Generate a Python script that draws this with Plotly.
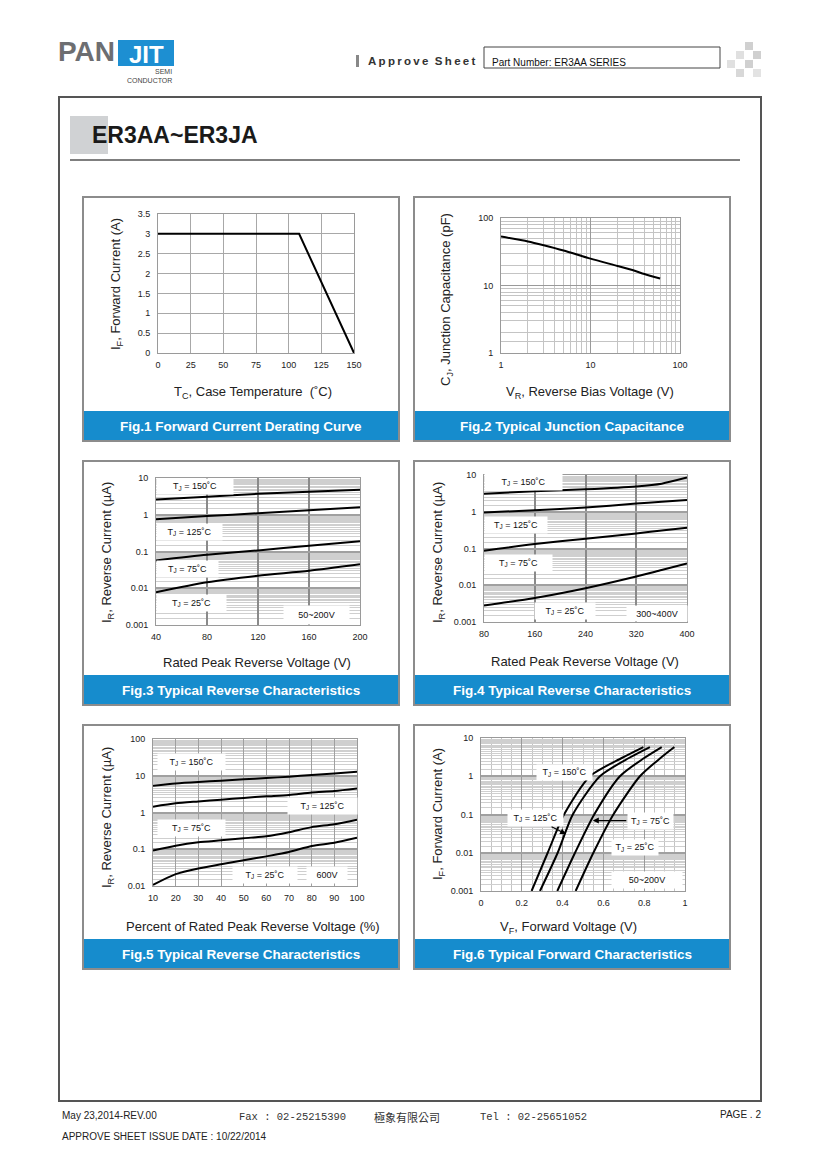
import plotly.graph_objects as go

W, H = 820, 1160

# ---------------- data ----------------
# Fig.1 Forward current derating
f1_temp = [0, 108, 150]
f1_cur = [3, 3, 0]

# Fig.2 Junction capacitance
f2_v = [1, 2, 3, 5, 10, 20, 30, 40, 60]
f2_c = [53, 45, 39.5, 33, 25, 19.5, 16.8, 14.8, 12.7]

# Fig.3 Reverse characteristics 50~200V
f3_v = [40, 80, 120, 160, 200]
f3_150 = [2.6, 3.1, 3.7, 4.2, 4.8]
f3_125 = [0.76, 0.92, 1.1, 1.33, 1.6]
f3_75 = [0.057, 0.081, 0.107, 0.143, 0.19]
f3_25 = [0.0078, 0.0146, 0.022, 0.030, 0.045]

# Fig.4 Reverse characteristics 300~400V
f4_v = [80, 160, 240, 320, 360, 400]
f4_150 = [3.1, 3.6, 4.1, 4.9, 5.8, 8.5]
f4_125 = [0.95, 1.1, 1.3, 1.67, 1.88, 2.1]
f4_75 = [0.087, 0.132, 0.185, 0.257, 0.31, 0.37]
f4_25 = [0.0028, 0.0045, 0.0083, 0.0173, 0.026, 0.039]

# Fig.5 Reverse characteristics 600V
f5_pct = [10, 20, 30, 40, 50, 60, 70, 80, 90, 100]
f5_150 = [5.3, 6.2, 6.8, 7.3, 8.0, 8.7, 9.4, 10.5, 11.6, 12.9]
f5_125 = [1.44, 1.78, 2.0, 2.23, 2.5, 2.75, 3.0, 3.5, 3.85, 4.5]
f5_75 = [0.092, 0.125, 0.155, 0.175, 0.2, 0.225, 0.29, 0.4, 0.48, 0.64]
f5_25 = [0.0107, 0.021, 0.030, 0.039, 0.05, 0.064, 0.084, 0.123, 0.15, 0.206]

# Fig.6 Forward characteristics
f6_if = [0.001, 0.01, 0.1, 1, 3, 5.8]
f6_150 = [0.248, 0.327, 0.407, 0.534, 0.69, 0.796]
f6_125 = [0.289, 0.376, 0.45, 0.583, 0.725, 0.828]
f6_75 = [0.374, 0.461, 0.555, 0.681, 0.80, 0.886]
f6_25 = [0.464, 0.551, 0.649, 0.779, 0.88, 0.948]

captions = ["Fig.1 Forward Current Derating Curve", "Fig.2 Typical Junction Capacitance",
            "Fig.3 Typical Reverse Characteristics", "Fig.4 Typical Reverse Characteristics",
            "Fig.5 Typical Reverse Characteristics", "Fig.6 Typical Forward Characteristics"]

# ---------------- helpers ----------------
def xd(a, b):
    return [a / W, b / W]

def yd(a, b):
    return [1 - b / H, 1 - a / H]

def PX(x):
    return x / W

def PY(y):
    return 1 - y / H

FONT = "Liberation Sans, Arial, sans-serif"
BLUE = "#168ccd"
tickfont = dict(family=FONT, size=9, color="#222")

def logminor(lo, hi, steps):
    return [m * 10 ** e for e in range(lo, hi) for m in steps]

dense = [1 + 0.5 * i for i in range(1, 18)]
std = [2, 3, 4, 5, 6, 7, 8, 9]

fig = go.Figure()

def add(x, y, n, shape="spline"):
    fig.add_trace(go.Scatter(x=x, y=y, mode="lines", line=dict(color="black", width=2, shape=shape, smoothing=0.7),
                             xaxis="x" + ("" if n == 1 else str(n)),
                             yaxis="y" + ("" if n == 1 else str(n)), hoverinfo="skip", showlegend=False))

add(f1_temp, f1_cur, 1, shape="linear")
add(f2_v, f2_c, 2)
for s in (f3_150, f3_125, f3_75, f3_25):
    add(f3_v, s, 3)
for s in (f4_150, f4_125, f4_75, f4_25):
    add(f4_v, s, 4)
for s in (f5_150, f5_125, f5_75, f5_25):
    add(f5_pct, s, 5)
for s in (f6_150, f6_125, f6_75, f6_25):
    add(s, f6_if, 6)

base = dict(showline=True, mirror=True, linecolor="#9a9a9a", linewidth=1, ticks="", automargin=False,
            tickfont=tickfont, zeroline=False, fixedrange=True)
bx = dict(base, ticklabelstandoff=3)
by = dict(base, ticklabelstandoff=5)

lay = {}
# Fig 1
lay["xaxis"] = dict(bx, domain=xd(158, 354), anchor="y", range=[0, 150], tickvals=[0, 25, 50, 75, 100, 125, 150],
                    gridcolor="#a8a8a8", gridwidth=1)
lay["yaxis"] = dict(by, domain=yd(214, 353), anchor="x", range=[0, 3.5], tickvals=[0, 0.5, 1, 1.5, 2, 2.5, 3, 3.5],
                    ticktext=["0", "0.5", "1", "1.5", "2", "2.5", "3", "3.5"], gridcolor="#a8a8a8", gridwidth=1)
# Fig 2
lay["xaxis2"] = dict(bx, domain=xd(501, 680), anchor="y2", type="log", range=[0, 2], tickvals=[1, 10, 100],
                     ticktext=["1", "10", "100"], gridcolor="#9a9a9a", gridwidth=1,
                     minor=dict(tickvals=logminor(0, 2, std), showgrid=True, gridcolor="#c4c4c4", gridwidth=1))
lay["yaxis2"] = dict(by, domain=yd(218, 353), anchor="x2", type="log", range=[0, 2], tickvals=[1, 10, 100],
                     ticktext=["1", "10", "100"], gridcolor="#9a9a9a", gridwidth=1,
                     minor=dict(tickvals=logminor(0, 2, [1.5] + std), showgrid=True, gridcolor="#c4c4c4", gridwidth=1))

ylog = dict(type="log", tickvals=[0.001, 0.01, 0.1, 1, 10, 100],
            ticktext=["0.001", "0.01", "0.1", "1", "10", "100"], gridcolor="#a0a0a0", gridwidth=1.5)
# Fig 3
lay["xaxis3"] = dict(bx, domain=xd(156, 360), anchor="y3", range=[40, 200], tickvals=[40, 80, 120, 160, 200],
                     gridcolor="#8a8a8a", gridwidth=1.5)
lay["yaxis3"] = dict(by, **ylog, domain=yd(478, 625), anchor="x3", range=[-3, 1],
                     minor=dict(tickvals=logminor(-3, 1, dense), showgrid=True, gridcolor="#cfcfcf", gridwidth=1))
# Fig 4
lay["xaxis4"] = dict(bx, domain=xd(484, 687), anchor="y4", range=[80, 400], tickvals=[80, 160, 240, 320, 400],
                     gridcolor="#8a8a8a", gridwidth=1.5)
lay["yaxis4"] = dict(by, **ylog, domain=yd(475, 622), anchor="x4", range=[-3, 1],
                     minor=dict(tickvals=logminor(-3, 1, dense), showgrid=True, gridcolor="#cfcfcf", gridwidth=1))
# Fig 5
lay["xaxis5"] = dict(bx, domain=xd(153, 357), anchor="y5", range=[10, 100], tickvals=list(range(10, 101, 10)),
                     gridcolor="#a0a0a0", gridwidth=1)
lay["yaxis5"] = dict(by, **ylog, domain=yd(739, 886), anchor="x5", range=[-2, 2],
                     minor=dict(tickvals=logminor(-2, 2, dense), showgrid=True, gridcolor="#cfcfcf", gridwidth=1))
# Fig 6
lay["xaxis6"] = dict(bx, domain=xd(481, 685), anchor="y6", range=[0, 1], tickvals=[0, 0.2, 0.4, 0.6, 0.8, 1],
                     ticktext=["0", "0.2", "0.4", "0.6", "0.8", "1"], gridcolor="#9a9a9a", gridwidth=1,
                     minor=dict(tickvals=[i * 0.05 for i in range(1, 20)], showgrid=True, gridcolor="#c4c4c4", gridwidth=1))
lay["yaxis6"] = dict(by, **ylog, domain=yd(738, 891), anchor="x6", range=[-3, 1],
                     minor=dict(tickvals=logminor(-3, 1, dense), showgrid=True, gridcolor="#cfcfcf", gridwidth=1))

shapes = []
ann = []

def rect(x0, y0, x1, y1, fill=None, lc=None, lw=0, layer="below"):
    shapes.append(dict(type="rect", xref="paper", yref="paper", x0=PX(x0), x1=PX(x1), y0=PY(y1), y1=PY(y0),
                       fillcolor=fill if fill else "rgba(0,0,0,0)",
                       line=dict(color=lc if lc else "rgba(0,0,0,0)", width=lw), layer=layer))

def text(x, y, t, size=10, color="#222", family=FONT, xanchor="center", yanchor="middle", angle=0, **kw):
    ann.append(dict(x=PX(x), y=PY(y), xref="paper", yref="paper", text=t, showarrow=False,
                    font=dict(family=family, size=size, color=color), xanchor=xanchor, yanchor=yanchor,
                    textangle=angle, **kw))

def label(x0, y0, x1, y1, t, size=9):
    ann.append(dict(x=PX((x0 + x1) / 2), y=PY((y0 + y1) / 2), xref="paper", yref="paper", text=t,
                    showarrow=False, font=dict(family=FONT, size=size, color="#111"),
                    bgcolor="white", width=x1 - x0, height=y1 - y0, borderpad=0,
                    xanchor="center", yanchor="middle"))

# -------- header --------
text(56, 52, "<b>PAN</b>", size=28, color="#6d6e71", xanchor="left")
rect(118, 40, 174, 66, fill="#1d8fd2")
text(146, 54, "<b>JIT</b>", size=24, color="white")
text(174, 71, "SEMI", size=7, color="#444", xanchor="right")
text(174, 80, "CONDUCTOR", size=7, color="#444", xanchor="right")
rect(356, 55, 359, 67, fill="#888")
sp = "\u2009"
text(366, 61, "<b>" + sp.join("Approve") + "\u00a0\u00a0" + sp.join("Sheet") + "</b>", size=11.5, color="#333",
     xanchor="left")
rect(484, 47, 720, 68, lc="#444", lw=1)
text(490, 62, "Part Number: ER3AA SERIES", size=10, color="#111", xanchor="left")
for (cx, cy, c) in [(745, 42, "#d0d0d0"), (736, 51, "#e0e0e0"), (753, 51, "#d0d0d0"),
                    (727, 60, "#e0e0e0"), (745, 60, "#d0d0d0"), (736, 69, "#d8d8d8"), (753, 69, "#e3e3e3")]:
    rect(cx, cy, cx + 8, cy + 8, fill=c)

# -------- outer frame & title --------
rect(59, 97, 761, 1101, lc="#555", lw=2)
rect(70, 116, 108, 154, fill="#d0d2d4")
text(90, 135, "<b>ER3AA~ER3JA</b>", size=23, color="#1a1a1a", xanchor="left")
shapes.append(dict(type="line", xref="paper", yref="paper", x0=PX(70), x1=PX(740), y0=PY(160), y1=PY(160),
                   line=dict(color="#555", width=1.5)))

# -------- panels --------
panels = [(83, 197), (414, 197), (83, 461), (414, 461), (83, 725), (414, 725)]
for i, (x0, y0) in enumerate(panels):
    rect(x0, y0, x0 + 316, y0 + 244, fill="white", lc="#8c8c8c", lw=2)
    rect(x0 + 1, y0 + 214, x0 + 315, y0 + 243, fill=BLUE, layer="above")
    text(x0 + 158, y0 + 229, "<b>" + captions[i] + "</b>", size=13.5, color="white")

TS = 13
# axis titles
text(117, 284, "I<sub>F</sub>, Forward Current (A)", size=TS, angle=-90)
text(253, 392, "T<sub>C</sub>, Case Temperature  (˚C)", size=TS)
text(447, 300, "C<sub>J</sub>, Junction Capacitance (pF)", size=TS, angle=-90)
text(590, 392, "V<sub>R</sub>, Reverse Bias Voltage (V)", size=TS)
text(107, 553, "I<sub>R</sub>, Reverse Current (µA)", size=TS, angle=-90)
text(257, 662, "Rated Peak Reverse Voltage (V)", size=TS)
text(438, 553, "I<sub>R</sub>, Reverse Current (µA)", size=TS, angle=-90)
text(585, 661, "Rated Peak Reverse Voltage (V)", size=TS)
text(107, 818, "I<sub>R</sub>, Reverse Current (µA)", size=TS, angle=-90)
text(253, 926, "Percent of Rated Peak Reverse Voltage (%)", size=TS)
text(438, 814, "I<sub>F</sub>, Forward Current (A)", size=TS, angle=-90)
text(568, 927, "V<sub>F</sub>, Forward Voltage (V)", size=TS)

# curve labels
TJ = "T<sub>J</sub> = %s˚C"
label(157, 479, 233, 494, TJ % "150")
label(157, 524, 222, 540, TJ % "125")
label(157, 561, 218, 577, TJ % "75")
label(157, 595, 226, 611, TJ % "25")
label(284, 606, 349, 624, "50~200V")

label(485, 474, 562, 490, TJ % "150")
label(485, 517, 547, 533, TJ % "125")
label(485, 555, 552, 571, TJ % "75")
label(535, 603, 595, 619, TJ % "25")
label(627, 606, 687, 621, "300~400V")

label(158, 754, 225, 770, TJ % "150")
label(288, 798, 357, 814, TJ % "125")
label(158, 820, 225, 836, TJ % "75")
label(233, 867, 297, 883, TJ % "25")
label(307, 867, 347, 883, "600V")

label(537, 765, 592, 780, TJ % "150")
label(508, 810, 563, 826, TJ % "125")
label(628, 813, 673, 829, TJ % "75")
label(612, 840, 658, 855, TJ % "25")
label(612, 872, 682, 888, "50~200V")

# arrows in Fig.6 (data coordinates)
ann.append(dict(x=0.417, y=-1.51, xref="x6", yref="y6", ax=-16, ay=-8, showarrow=True, arrowhead=2,
                arrowsize=1, arrowwidth=1.2, arrowcolor="black", text=""))
ann.append(dict(x=0.548, y=-1.16, xref="x6", yref="y6", ax=35, ay=0, showarrow=True, arrowhead=2,
                arrowsize=1, arrowwidth=1.2, arrowcolor="black", text=""))

# -------- footer --------
text(60, 1115, "May 23,2014-REV.00", size=10, color="#222", xanchor="left")
text(237, 1117, "Fax : 02-25215390", size=10.5, color="#333", family="Liberation Mono, monospace", xanchor="left")
text(372, 1117, "極象有限公司", size=11, color="#333", family="Noto Sans CJK TC", xanchor="left")
text(478, 1117, "Tel : 02-25651052", size=10.5, color="#333", family="Liberation Mono, monospace", xanchor="left")
text(763, 1114, "PAGE . 2", size=10, color="#222", xanchor="right")
text(60, 1136, "APPROVE SHEET ISSUE DATE : 10/22/2014", size=10, color="#222", xanchor="left")

fig.update_layout(width=W, height=H, margin=dict(l=0, r=0, t=0, b=0, pad=0, autoexpand=False),
                  paper_bgcolor="white", plot_bgcolor="rgba(0,0,0,0)", showlegend=False,
                  shapes=shapes, annotations=ann, **lay)
fig.write_html("out.html", config={"displayModeBar": False},
               post_script="document.body.style.margin='0';document.body.style.overflow='hidden';")
